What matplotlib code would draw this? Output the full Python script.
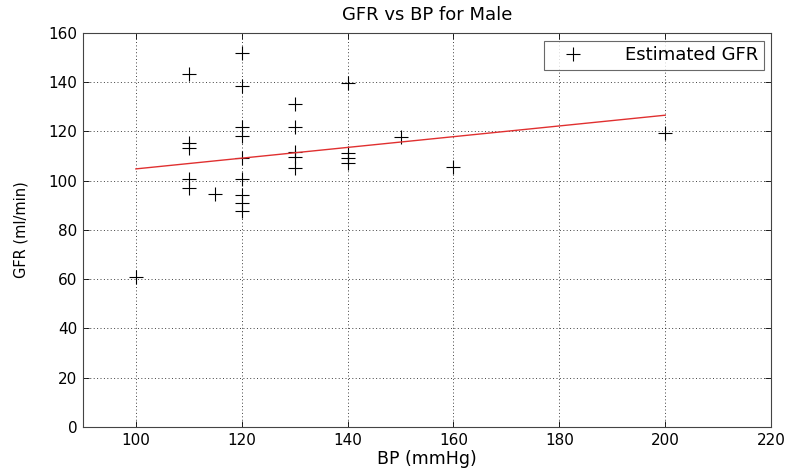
import matplotlib
matplotlib.use("Agg")
import matplotlib.pyplot as plt

plt.rcParams['font.family'] = ['DejaVu Sans']

bp = [100,
      110, 110, 110, 110, 110,
      115,
      120, 120, 120, 120, 120, 120, 120, 120, 120,
      130, 130, 130, 130, 130,
      140, 140, 140, 140,
      150, 160, 200]
gfr = [61,
       143.4, 115.5, 113.2, 100.6, 96.9,
       94.5,
       151.9, 138.3, 122, 118.2, 109.1, 100.6, 94.2, 91.1, 87.8,
       131.2, 122, 111.8, 109.8, 105,
       139.8, 111.1, 109.1, 107.1,
       117.6, 105.7, 119.4]
fit_x = [100, 200]
fit_y = [104.8, 126.6]

xticks = [100, 120, 140, 160, 180, 200, 220]
yticks = [0, 20, 40, 60, 80, 100, 120, 140, 160]

fig = plt.figure(figsize=(7.9, 4.68), dpi=100)
ax = fig.add_axes([0.105, 0.0876, 0.871, 0.842])

ax.plot(bp, gfr, linestyle='none', marker='+', color='black',
        markersize=10, markeredgewidth=0.8, label='Estimated GFR')
ax.plot(fit_x, fit_y, color='#e03030', linewidth=1.0)

ax.set_xlim(90, 220)
ax.set_ylim(0, 160)
ax.set_xticks(xticks)
ax.set_yticks(yticks)
ax.tick_params(direction='in', labelsize=11, length=4, width=0.6,
               top=True, right=True, pad=4)
ax.grid(True, linestyle=(0, (1, 2.5)), color='black', linewidth=0.7, alpha=0.75)
for s in ax.spines.values():
    s.set_linewidth(0.8)
    s.set_color('#444444')

ax.set_title('GFR vs BP for Male', fontsize=13, pad=9)
ax.set_xlabel('BP (mmHg)', fontsize=12.5, labelpad=2)
ax.set_ylabel('GFR (ml/min)', fontsize=10.5, labelpad=14)

leg = ax.legend(loc='upper right', bbox_to_anchor=(0.9898, 0.9797),
                fontsize=13, frameon=True, fancybox=False,
                edgecolor='#444444', borderpad=0.3, handlelength=2.6,
                handletextpad=1.6, borderaxespad=0.0)
leg.get_frame().set_linewidth(0.8)

fig.savefig('out.png', dpi=100)
